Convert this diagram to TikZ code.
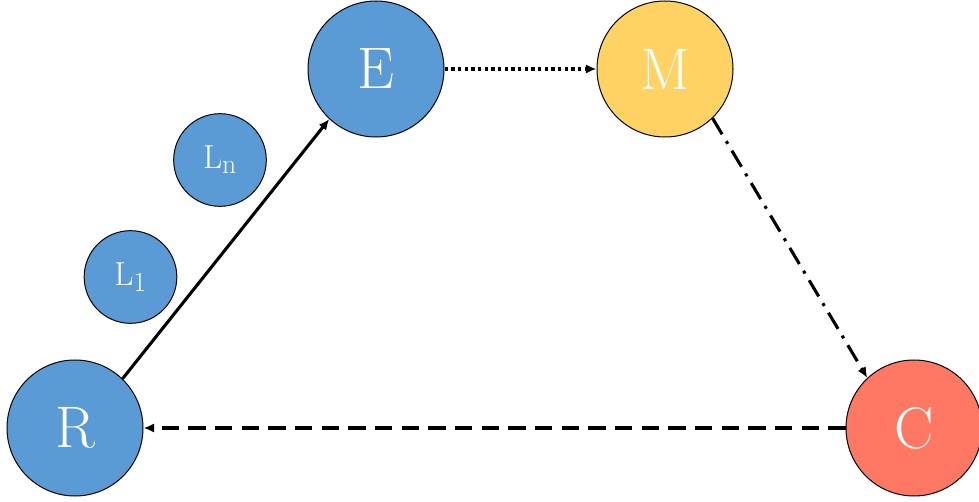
\documentclass[tikz,border=0pt]{standalone}
\usetikzlibrary{arrows.meta}
\definecolor{nodeblue}{RGB}{91,155,213}
\definecolor{nodeyellow}{RGB}{255,210,100}
\definecolor{nodered}{RGB}{255,120,100}
\begin{document}
\begin{tikzpicture}[x=0.75pt,y=-0.75pt,
  bignode/.style={circle,draw=black,line width=0.75pt,minimum size=102pt,inner sep=0pt,text=white,font=\fontsize{44}{44}\selectfont},
  smallnode/.style={circle,draw=black,line width=0.75pt,minimum size=69.5pt,inner sep=0pt,text=white,font=\fontsize{28}{28}\selectfont},
  conn/.style={line width=2.3pt,-{Latex[length=8pt,width=7pt]}},
  dashpat/.style={dash pattern=on 13pt off 7pt},
  dotpat/.style={dash pattern=on 2.6pt off 2.4pt},
  dashdotpat/.style={dash pattern=on 14pt off 6pt on 2.3pt off 6pt}]
\useasboundingbox (0,0) rectangle (979,502);
\node[bignode,fill=nodeblue] (R) at (75,428) {R};
\node[bignode,fill=nodeblue] (E) at (376,69) {E};
\node[bignode,fill=nodeyellow] (M) at (665,69) {M};
\node[bignode,fill=nodered] (C) at (914,428) {C};
\node[smallnode,fill=nodeblue] (Ln) at (220,160) {$\mathrm{L}_\mathrm{n}$};
\node[smallnode,fill=nodeblue] (L1) at (130.5,277) {$\mathrm{L}_\mathrm{1}$};
\draw[conn] (R.46) -- (E.227);
\draw[conn,dotpat] (E) -- (M);
\draw[conn,dashdotpat] (M.-46) -- (C.133);
\draw[conn,dashpat] (C) -- (R);
\end{tikzpicture}
\end{document}
